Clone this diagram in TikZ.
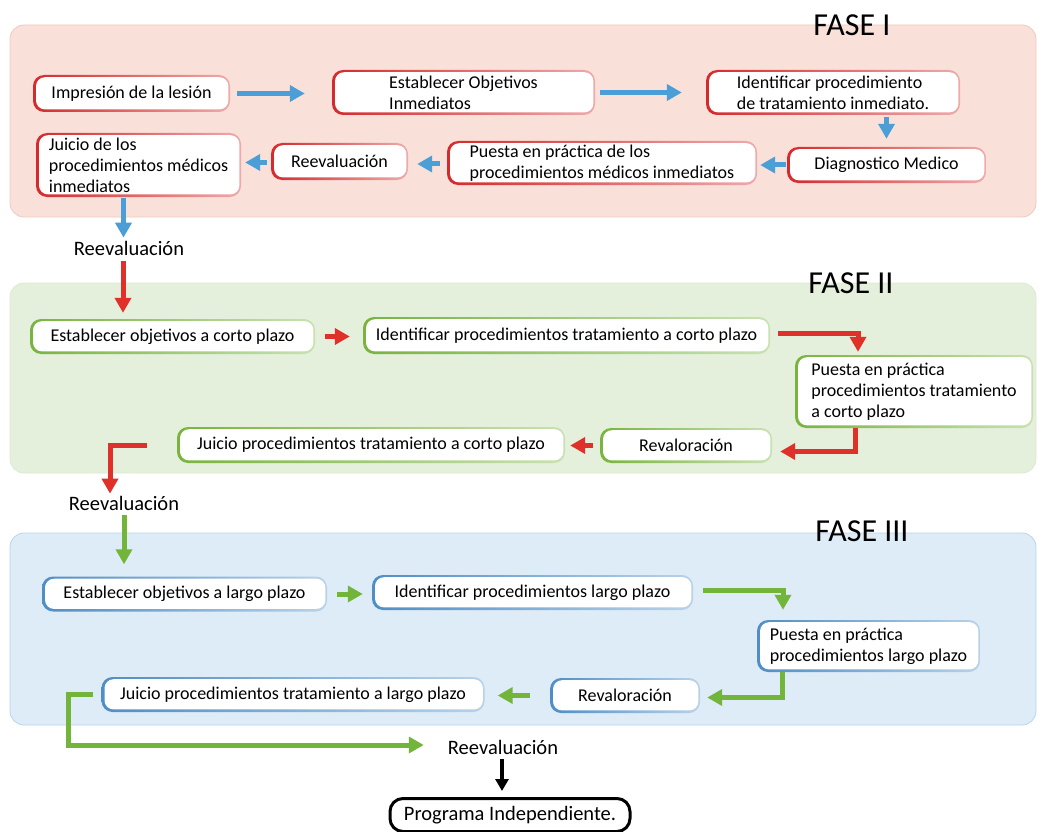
\documentclass[tikz,border=0pt]{standalone}
\usepackage{fontspec}
\setmainfont{Carlito}
\usetikzlibrary{arrows.meta}
\definecolor{pinkbg}{HTML}{F9E1DA}
\definecolor{pinkln}{HTML}{F0C9C0}
\definecolor{greenbg}{HTML}{E4F0DB}
\definecolor{greenln}{HTML}{DCEAD0}
\definecolor{bluebg}{HTML}{DEECF8}
\definecolor{blueln}{HTML}{B9D4EE}
\definecolor{redbox}{HTML}{D42A2D}
\definecolor{greenbox}{HTML}{78B43E}
\definecolor{bluebox}{HTML}{4F8EC6}
\definecolor{barrc}{HTML}{4B9ED6}
\definecolor{rarrc}{HTML}{E0302A}
\definecolor{garrc}{HTML}{72B53A}
\begin{document}
\begin{tikzpicture}[x=1pt,y=-1pt,
  pbox/.style={rounded corners=11pt, inner sep=0pt, align=center,
    font=\fontsize{18}{21}\selectfont, left color=#1, right color=#1!40,
    path picture={\fill[white, rounded corners=9pt]
      ([shift={(3pt,2.6pt)}]path picture bounding box.south west) rectangle
      ([shift={(-1.6pt,-2.2pt)}]path picture bounding box.north east);}},
  lbl/.style={inner sep=0pt, font=\fontsize{20.5}{24}\selectfont},
  fase/.style={inner sep=0pt, font=\fontsize{32}{36}\selectfont},
  phase/.style={rounded corners=14pt, line width=0.8pt},
  barr/.style={draw=barrc, line width=5pt, -{Triangle[length=15pt,width=16pt]}},
  rarr/.style={draw=rarrc, line width=5pt, -{Triangle[length=15pt,width=16pt]}},
  garr/.style={draw=garrc, line width=5pt, -{Triangle[length=15pt,width=16pt]}},
  karr/.style={draw=black, line width=3.2pt, -{Triangle[length=12pt,width=13pt]}},
  endbox/.style={draw=black, line width=3pt, rounded corners=13pt, fill=white,
    inner sep=0pt, font=\fontsize{20.5}{24}\selectfont}
]
\useasboundingbox (0,0) rectangle (1039,832);
% phase backgrounds
\filldraw[phase, fill=pinkbg, draw=pinkln] (10,25) rectangle (1036,217);
\filldraw[phase, fill=greenbg, draw=greenln] (10,283) rectangle (1036,473);
\filldraw[phase, fill=bluebg, draw=blueln] (10,533) rectangle (1036,725);
\node[fase] (f1) at (852,25) {FASE I};
\node[fase] (f2) at (851,283) {FASE II};
\node[fase] (f3) at (862,531) {FASE III};

% Phase I
\node[pbox=redbox, minimum width=197pt, minimum height=37pt] (n1) at (131.5,93.5) {Impresión de la lesión};
\node[pbox=redbox, minimum width=263pt, minimum height=45pt, align=left] (n2) at (463.5,92.5) {Establecer Objetivos\\ Inmediatos};
\node[pbox=redbox, minimum width=254pt, minimum height=45pt, align=left] (n3) at (833,92.5) {Identificar procedimiento\\de tratamiento inmediato.};
\node[pbox=redbox, minimum width=199pt, minimum height=36pt] (n4) at (886.5,165) {Diagnostico Medico};
\node[pbox=redbox, minimum width=310pt, minimum height=44pt, align=left] (n5) at (602,163) {Puesta en práctica de los\\procedimientos médicos inmediatos};
\node[pbox=redbox, minimum width=137pt, minimum height=37pt] (n6) at (339.5,161.5) {Reevaluación};
\node[pbox=redbox, minimum width=205pt, minimum height=64pt, align=left] (n7) at (138.5,165) {Juicio de los\\procedimientos médicos\\inmediatos};
\node[lbl] (r1) at (129,248) {Reevaluación};

\draw[barr, shorten <=7pt, shorten >=27pt] (n1.east) -- (n1.east -| n2.west);
\draw[barr, shorten <=5pt, shorten >=24pt] (n2.east) -- (n2.east -| n3.west);
\draw[barr, shorten <=2pt, shorten >=8pt] (n4.north |- n3.south) -- (n4.north);
\draw[barr, shorten <=1pt, shorten >=3pt] (n4.west) -- (n4.west -| n5.east);
\draw[barr, shorten <=7pt, shorten >=9pt] ([yshift=-1pt]n5.west) -- ([yshift=-1pt]n5.west -| n6.east);
\draw[barr, shorten <=4pt, shorten >=4pt] ([yshift=-1pt]n6.west) -- ([yshift=-1pt]n6.west -| n7.east);
\draw[barr, shorten <=1pt, shorten >=3pt] ([xshift=-15pt]n7.south) -- ([xshift=-15pt]n7.south |- r1.north);

% Phase II
\node[pbox=greenbox, minimum width=285pt, minimum height=35pt] (m1) at (172.5,336.5) {Establecer objetivos a corto plazo};
\node[pbox=greenbox, minimum width=407pt, minimum height=37pt] (m2) at (566.5,335.5) {Identificar procedimientos tratamiento a corto plazo};
\node[pbox=greenbox, minimum width=238pt, minimum height=73pt, align=left] (m3) at (914,391.5) {Puesta en práctica\\procedimientos tratamiento\\a corto plazo};
\node[pbox=greenbox, minimum width=172pt, minimum height=35pt] (m4) at (686,445.5) {Revaloración};
\node[pbox=greenbox, minimum width=388pt, minimum height=36pt] (m5) at (371,445) {Juicio procedimientos tratamiento a corto plazo};
\node[lbl] (r2) at (124,503) {Reevaluación};

\draw[rarr, shorten <=6pt, shorten >=6pt] ([xshift=-6pt]r1.south) -- ([xshift=-6pt]r1.south |- m1.north);
\draw[rarr, shorten <=10pt, shorten >=13pt] (m1.east) -- (m1.east -| m2.west);
\draw[rarr, shorten >=3pt] ([xshift=8pt,yshift=2pt]m2.east) -| ([xshift=-56pt]m3.north);
\draw[rarr, shorten >=8pt] ([xshift=-59pt]m3.south) |- ([yshift=-6pt]m4.east);
\draw[rarr, shorten <=7pt, shorten >=5pt] (m4.west) -- (m4.west -| m5.east);
\draw[rarr, shorten >=2pt] ([xshift=-30pt]m5.west) -| ([xshift=-14pt]r2.north);

% Phase III
\node[pbox=bluebox, minimum width=285pt, minimum height=35pt] (k1) at (184.5,594) {Establecer objetivos a largo plazo};
\node[pbox=bluebox, minimum width=321pt, minimum height=35pt] (k2) at (532.5,592.5) {Identificar procedimientos largo plazo};
\node[pbox=bluebox, minimum width=223pt, minimum height=52pt, align=left] (k3) at (868.5,646) {Puesta en práctica\\procedimientos largo plazo};
\node[pbox=bluebox, minimum width=150pt, minimum height=35pt] (k4) at (625,695.5) {Revaloración};
\node[pbox=bluebox, minimum width=383pt, minimum height=35pt] (k5) at (293,694.5) {Juicio procedimientos tratamiento a largo plazo};
\node[lbl] (r3) at (503,747) {Reevaluación};
\node[endbox, minimum width=240pt, minimum height=33pt] (p) at (510,815) {Programa Independiente.};

\draw[garr, shorten <=5pt, shorten >=12pt] (r2.south) -- (r2.south |- k1.north);
\draw[garr, shorten <=10pt, shorten >=9pt] (k1.east) -- (k1.east -| k2.west);
\draw[garr, shorten >=10pt] ([xshift=10pt,yshift=2.5pt]k2.east) -| ([xshift=-85.5pt]k3.north);
\draw[garr, shorten >=7pt] ([xshift=-86pt]k3.south) |- ([yshift=-2pt]k4.east);
\draw[garr, shorten <=20pt, shorten >=13pt] (k4.west) -- (k4.west -| k5.east);
\draw[garr, shorten >=24pt] ([xshift=-8pt]k5.west) -- ++(-25,0) |- ([yshift=2pt]r3.west);
\draw[karr, shorten <=5pt, shorten >=6pt] ([xshift=-1pt]r3.south) -- ([xshift=-1pt]r3.south |- p.north);
\end{tikzpicture}
\end{document}
